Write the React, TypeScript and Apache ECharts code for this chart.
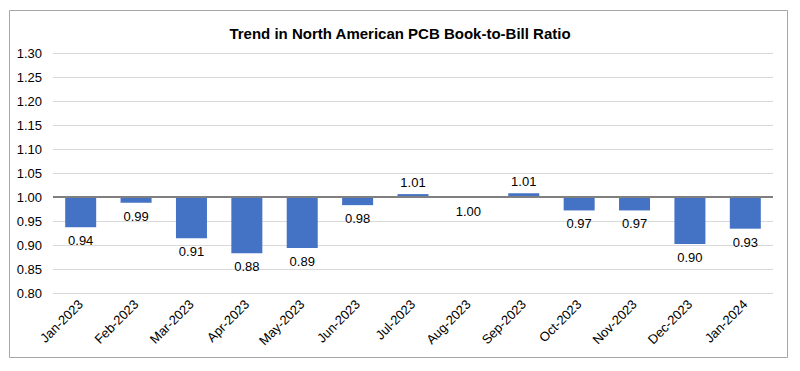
import React, { useEffect, useRef } from "react";
import * as echarts from "echarts";

const months = [
  "Jan-2023", "Feb-2023", "Mar-2023", "Apr-2023", "May-2023", "Jun-2023", "Jul-2023",
  "Aug-2023", "Sep-2023", "Oct-2023", "Nov-2023", "Dec-2023", "Jan-2024",
];
const ratios = [0.937, 0.988, 0.914, 0.883, 0.894, 0.983, 1.006, 0.998, 1.008, 0.972, 0.972, 0.902, 0.934];
const baseline = 1.0;
const yTicksMin = 0.8;
const yTicksMax = 1.3;

export default function App() {
  const ref = useRef<HTMLDivElement>(null);
  useEffect(() => {
    const chart = echarts.init(ref.current!, undefined, { renderer: "svg" });
    const font = "'Liberation Sans', Arial, sans-serif";
    const diffs = ratios.map((r) => Math.round((r - baseline) * 10000) / 100);
    chart.setOption({
      animation: false,
      backgroundColor: "#fff",
      textStyle: { fontFamily: font },
      title: {
        text: "Trend in North American PCB Book-to-Bill Ratio",
        left: "center",
        top: 21,
        textStyle: { fontSize: 15, fontWeight: "bold", color: "#000", fontFamily: font },
      },
      graphic: [
        {
          type: "rect",
          shape: { x: 9.5, y: 10.5, width: 778, height: 347 },
          style: { fill: "none", stroke: "#a6a6a6", lineWidth: 1 },
          silent: true,
        },
      ],
      grid: { left: 53, right: 27, top: 53, bottom: 78 },
      xAxis: {
        type: "category",
        data: months,
        axisLine: { show: false, onZero: false },
        axisTick: { show: false },
        axisLabel: { rotate: 45, margin: 9, fontSize: 13, color: "#000", fontFamily: font, interval: 0 },
      },
      yAxis: {
        type: "value",
        min: (yTicksMin - baseline) * 100,
        max: Math.round((yTicksMax - baseline) * 100),
        interval: 5,
        axisLine: { show: false },
        axisTick: { show: false },
        axisLabel: {
          fontSize: 13,
          color: "#000",
          margin: 11,
          fontFamily: font,
          formatter: (v: number) => (baseline + v / 100).toFixed(2),
        },
        splitLine: { lineStyle: { color: "#d9d9d9", width: 1 } },
      },
      series: [
        {
          type: "bar",
          barWidth: 31,
          data: diffs.map((d, i) => ({
            value: d,
            label: { position: d < 0 ? "bottom" : "top", distance: d < 0 ? 7 : 5 },
          })),
          itemStyle: { color: "#4472c4" },
          label: {
            show: true,
            fontSize: 13,
            color: "#000",
            fontFamily: font,
            formatter: (p: any) => ratios[p.dataIndex].toFixed(2),
          },
          markLine: {
            silent: true,
            symbol: "none",
            label: { show: false },
            lineStyle: { color: "#7f7f7f", width: 2, type: "solid" },
            data: [{ yAxis: 0 }],
          },
        },
      ],
    });
    return () => chart.dispose();
  }, []);
  return <div ref={ref} style={{ position: "absolute", left: 0, top: 0, width: 800, height: 371 }} />;
}
